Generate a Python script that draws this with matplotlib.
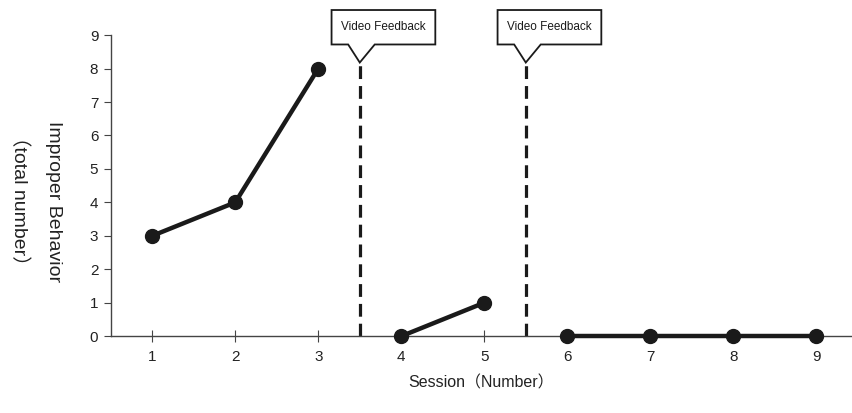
import matplotlib.pyplot as plt
from matplotlib.patches import Polygon

plt.rcParams['font.family'] = ['Liberation Sans', 'Noto Sans CJK JP', 'DejaVu Sans']

# phases of the single-case design
baseline_sessions = [1, 2, 3]
baseline_values = [3, 4, 8]
phase2_sessions = [4, 5]
phase2_values = [0, 1]
phase3_sessions = [6, 7, 8, 9]
phase3_values = [0, 0, 0, 0]

phase_changes = [3.5, 5.5]
phase_label = "Video Feedback"
x_ticks = [1, 2, 3, 4, 5, 6, 7, 8, 9]
y_ticks = [0, 1, 2, 3, 4, 5, 6, 7, 8, 9]

line_color = "#1a1a1a"
axis_color = "#444444"

fig = plt.figure(figsize=(8.52, 4.13), dpi=100)
ax = fig.add_axes([0.130, 0.186, 0.870, 0.729])

for xs, ys in [(baseline_sessions, baseline_values),
               (phase2_sessions, phase2_values),
               (phase3_sessions, phase3_values)]:
    ax.plot(xs, ys, color=line_color, linewidth=3.2, marker="o",
            markersize=10, clip_on=False, zorder=3)

# phase change lines with callouts
tip_y = 8.18
for xc in phase_changes:
    ax.plot([xc, xc], [0, tip_y], color=line_color, linewidth=2.3,
            linestyle=(0, (4, 2.2)), clip_on=False, zorder=2)
    left, right = xc - 0.34, xc + 0.91
    top, bottom = 9.75, 8.72
    pts = [(left, top), (right, top), (right, bottom), (xc + 0.18, bottom),
           (xc, tip_y), (xc - 0.14, bottom), (left, bottom)]
    ax.add_patch(Polygon(pts, closed=True, facecolor="white",
                         edgecolor=line_color, linewidth=1.3, clip_on=False, zorder=4))
    ax.text((left + right) / 2, (top + bottom) / 2 + 0.02, phase_label,
            ha="center", va="center", fontsize=8.5, color=line_color, zorder=5)

ax.set_xlim(0.5, 9.43)
ax.set_ylim(0, 9)
ax.set_xticks(x_ticks)
ax.set_yticks(y_ticks)
ax.spines["top"].set_visible(False)
ax.spines["right"].set_visible(False)
for s in ["left", "bottom"]:
    ax.spines[s].set_color(axis_color)
    ax.spines[s].set_linewidth(1.0)
ax.tick_params(axis="x", direction="inout", length=8, width=0.8, color=axis_color,
               labelsize=11, pad=6, labelcolor="#222222")
ax.tick_params(axis="y", direction="out", length=5, width=0.8, color=axis_color,
               labelsize=11, pad=4, labelcolor="#222222")

ax.set_xlabel("Session（Number）", fontsize=11.5, color="#222222", labelpad=8)
fig.text(0.042, 0.513, "Improper Behavior\n（total number）", rotation=270,
         ha="center", va="center", fontsize=14, color="#222222", linespacing=2.1,
         multialignment="center")

fig.savefig("out.png", dpi=100)
